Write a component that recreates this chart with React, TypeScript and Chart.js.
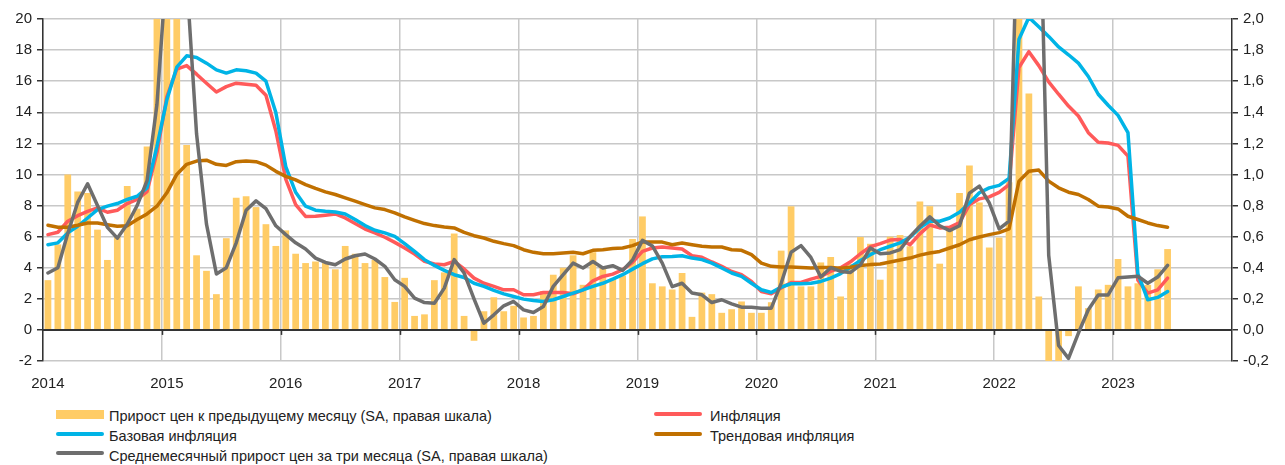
import React, { useEffect, useRef } from 'react';
import { Chart, registerables } from 'chart.js';

Chart.register(...registerables);

// ---- categories ----
const yearLabels = ['2014', '2015', '2016', '2017', '2018', '2019', '2020', '2021', '2022', '2023'];
const monthCodes = ['01', '02', '03', '04', '05', '06', '07', '08', '09', '10', '11', '12'];
const monthLabels: string[] = yearLabels.flatMap((y) => monthCodes.map((m) => `${y}-${m}`));

// ---- series (2014-01 .. 2023-06) ----
// Month-on-month price growth, SA, % (right axis)
const monthlySA = [
  0.32, 0.55, 1.0, 0.89, 0.88, 0.645, 0.45, 0.6, 0.925, 0.78, 1.18, 2.4,
  3.5, 2.1, 1.19, 0.48, 0.38, 0.23, 0.59, 0.85, 0.86, 0.79, 0.68, 0.54,
  0.64, 0.49, 0.43, 0.44, 0.43, 0.39, 0.54, 0.49, 0.43, 0.45, 0.34, 0.18,
  0.335, 0.09, 0.1, 0.32, 0.37, 0.62, 0.09, -0.07, 0.12, 0.21, 0.12, 0.155,
  0.08, 0.09, 0.25, 0.355, 0.4, 0.48, 0.29, 0.5, 0.4, 0.33, 0.35, 0.585,
  0.73, 0.3, 0.28, 0.26, 0.366, 0.084, 0.24, 0.23, 0.11, 0.133, 0.183, 0.11,
  0.11, 0.178, 0.51, 0.795, 0.28, 0.28, 0.434, 0.469, 0.215, 0.424, 0.598, 0.554,
  0.323, 0.6, 0.61, 0.538, 0.826, 0.796, 0.426, 0.66, 0.88, 1.058, 0.82, 0.53,
  0.594, 0.95, 3.0, 1.52, 0.215, -0.35, -0.3, -0.04, 0.28, 0.14, 0.26, 0.29,
  0.456, 0.28, 0.3, 0.29, 0.39, 0.52,
];

// Headline inflation, % y/y (left axis)
const inflation = [
  6.13, 6.28, 6.99, 7.35, 7.63, 7.85, 7.57, 7.7, 8.13, 8.39, 8.9, 11.4,
  15.0, 16.77, 17.0, 16.45, 15.87, 15.3, 15.65, 15.87, 15.8, 15.74, 15.1, 12.8,
  9.7, 8.06, 7.3, 7.31, 7.38, 7.46, 7.2, 6.84, 6.49, 6.24, 5.96, 5.63,
  5.27, 4.88, 4.41, 4.24, 4.19, 4.41, 3.92, 3.33, 3.0, 2.8, 2.58, 2.58,
  2.26, 2.26, 2.41, 2.41, 2.41, 2.32, 2.58, 3.16, 3.44, 3.59, 3.87, 4.35,
  5.05, 5.27, 5.33, 5.27, 5.2, 4.77, 4.67, 4.37, 4.09, 3.76, 3.55, 3.12,
  2.47, 2.32, 2.7, 3.05, 3.05, 3.27, 3.44, 3.76, 4.0, 4.38, 4.9, 5.35,
  5.55, 5.78, 5.82, 5.48, 6.18, 6.75, 6.56, 6.6, 6.9, 8.06, 8.43, 8.56,
  8.85, 9.35, 16.88, 17.9, 17.0, 15.96, 15.16, 14.4, 13.76, 12.69, 12.07, 12.02,
  11.87, 11.18, 3.2, 2.37, 2.58, 3.33,
];

// Core inflation, % y/y (left axis)
const coreInflation = [
  5.48, 5.6, 6.24, 6.67, 7.2, 7.74, 7.96, 8.13, 8.39, 8.6, 9.14, 11.8,
  14.8, 16.9, 17.63, 17.53, 17.16, 16.73, 16.52, 16.73, 16.67, 16.52, 16.0, 13.98,
  10.5, 8.85, 7.96, 7.7, 7.63, 7.59, 7.46, 7.1, 6.71, 6.41, 6.24, 6.02,
  5.55, 5.05, 4.52, 4.15, 3.83, 3.55, 3.37, 3.0, 2.8, 2.54, 2.32, 2.15,
  1.98, 1.89, 1.83, 1.94, 2.15, 2.37, 2.58, 2.8, 3.0, 3.27, 3.55, 3.91,
  4.26, 4.57, 4.71, 4.73, 4.77, 4.62, 4.52, 4.3, 3.98, 3.66, 3.44, 3.0,
  2.58, 2.41, 2.75, 2.97, 2.97, 3.0, 3.12, 3.33, 3.62, 4.03, 4.47, 4.84,
  5.16, 5.38, 5.6, 5.96, 6.56, 7.0, 6.99, 7.2, 7.57, 8.17, 8.82, 9.14,
  9.3, 9.75, 18.7, 20.1, 19.5, 18.88, 18.2, 17.7, 17.16, 16.3, 15.16, 14.45,
  13.8, 12.69, 3.6, 1.94, 2.09, 2.47,
];

// Trend inflation, % (left axis)
const trendInflation = [
  6.73, 6.6, 6.6, 6.73, 6.88, 6.88, 6.77, 6.67, 6.7, 7.1, 7.46, 7.96,
  8.82, 10.0, 10.65, 10.86, 10.92, 10.65, 10.58, 10.82, 10.86, 10.82, 10.6, 10.2,
  9.88, 9.65, 9.35, 9.1, 8.88, 8.71, 8.49, 8.28, 8.06, 7.85, 7.74, 7.53,
  7.27, 7.05, 6.84, 6.71, 6.62, 6.56, 6.27, 6.06, 5.91, 5.7, 5.55, 5.42,
  5.16, 4.99, 4.9, 4.9, 4.95, 4.99, 4.9, 5.12, 5.16, 5.23, 5.27, 5.42,
  5.66, 5.66, 5.65, 5.48, 5.59, 5.48, 5.38, 5.33, 5.33, 5.16, 5.12, 4.84,
  4.3, 4.09, 4.04, 4.04, 4.02, 3.98, 4.02, 4.02, 3.96, 4.03, 4.14, 4.2,
  4.24, 4.37, 4.5, 4.62, 4.81, 4.95, 5.05, 5.27, 5.48, 5.8, 5.98, 6.13,
  6.26, 6.5, 9.57, 10.2, 10.28, 9.57, 9.14, 8.86, 8.71, 8.39, 7.96, 7.91,
  7.78, 7.31, 7.1, 6.88, 6.71, 6.6,
];

// Average monthly price growth over three months, SA, % (right axis)
const threeMonthAvgSA = [
  0.366, 0.4, 0.62, 0.82, 0.94, 0.8, 0.66, 0.59, 0.68, 0.8, 0.96, 1.45,
  2.36, 2.67, 2.26, 1.26, 0.68, 0.36, 0.4, 0.56, 0.77, 0.83, 0.78, 0.67,
  0.613, 0.56, 0.52, 0.462, 0.434, 0.419, 0.456, 0.477, 0.488, 0.456, 0.409, 0.323,
  0.28, 0.204, 0.176, 0.172, 0.269, 0.452, 0.366, 0.2, 0.043, 0.097, 0.155, 0.183,
  0.129, 0.112, 0.15, 0.28, 0.355, 0.43, 0.398, 0.44, 0.398, 0.413, 0.383, 0.45,
  0.576, 0.54, 0.43, 0.278, 0.3, 0.237, 0.226, 0.176, 0.194, 0.168, 0.146, 0.146,
  0.14, 0.14, 0.3, 0.5, 0.542, 0.466, 0.34, 0.4, 0.376, 0.37, 0.419, 0.527,
  0.49, 0.495, 0.516, 0.6, 0.667, 0.727, 0.67, 0.639, 0.67, 0.88, 0.925, 0.817,
  0.65, 0.7, 3.0, 3.35, 3.1, 0.48, -0.1, -0.183, -0.02, 0.13, 0.225, 0.225,
  0.335, 0.34, 0.345, 0.3, 0.34, 0.415,
];

const seriesNames = {
  bars: 'Прирост цен к предыдущему месяцу (SA, правая шкала)',
  inflation: 'Инфляция',
  core: 'Базовая инфляция',
  trend: 'Трендовая инфляция',
  avg3: 'Среднемесячный прирост цен за три месяца (SA, правая шкала)',
};

const COLORS = {
  bars: '#FFCC66',
  inflation: '#FF5A5A',
  core: '#00B4E6',
  trend: '#C07000',
  avg3: '#6E6E6E',
  grid: '#C8C8C8',
  dark: '#333333',
  text: '#222222',
};

const FONT = "'Liberation Sans', Arial, sans-serif";

const zeroLinePlugin = {
  id: 'zeroLine',
  afterDatasetDraw(chart: any, args: any) {
    if (args.index !== 0) return;
    const { ctx, chartArea } = chart;
    const xs = chart.scales.x;
    const ys = chart.scales.y;
    const y0 = ys.getPixelForValue(0);
    ctx.save();
    ctx.strokeStyle = COLORS.dark;
    ctx.lineWidth = 2;
    ctx.beginPath();
    ctx.moveTo(chartArea.left, y0);
    ctx.lineTo(chartArea.right, y0);
    ctx.stroke();
    const half = (xs.getPixelForValue(1) - xs.getPixelForValue(0)) / 2;
    ctx.lineWidth = 1.5;
    for (let j = 1; j < yearLabels.length; j++) {
      const px = Math.round(xs.getPixelForValue(j * 12) - half) + 0.5;
      ctx.beginPath();
      ctx.moveTo(px, y0);
      ctx.lineTo(px, y0 + 5);
      ctx.stroke();
    }
    ctx.restore();
  },
};

function lineDs(label: string, data: number[], color: string, axis: string, order: number) {
  return {
    type: 'line' as const,
    label,
    data,
    yAxisID: axis,
    borderColor: color,
    backgroundColor: color,
    borderWidth: 3.5,
    pointRadius: 0,
    tension: 0,
    borderJoinStyle: 'round' as const,
    borderCapStyle: 'round' as const,
    order,
  };
}

export default function App() {
  const canvasRef = useRef<HTMLCanvasElement | null>(null);

  useEffect(() => {
    if (!canvasRef.current) return;
    const tickFont = { family: FONT, size: 15 };
    const chart = new Chart(canvasRef.current, {
      type: 'bar',
      data: {
        labels: monthLabels,
        datasets: [
          {
            type: 'bar',
            label: seriesNames.bars,
            data: monthlySA,
            yAxisID: 'y1',
            backgroundColor: COLORS.bars,
            barPercentage: 0.68,
            categoryPercentage: 1.0,
            order: 10,
          } as any,
          lineDs(seriesNames.inflation, inflation, COLORS.inflation, 'y', 4),
          lineDs(seriesNames.core, coreInflation, COLORS.core, 'y', 3),
          lineDs(seriesNames.trend, trendInflation, COLORS.trend, 'y', 2),
          lineDs(seriesNames.avg3, threeMonthAvgSA, COLORS.avg3, 'y1', 1),
        ],
      },
      options: {
        animation: false,
        responsive: false,
        maintainAspectRatio: false,
        layout: { padding: { top: 19, left: 0, right: 0, bottom: 0 } },
        plugins: { legend: { display: false }, tooltip: { enabled: false } },
        scales: {
          x: {
            type: 'category',
            offset: true,
            grid: {
              offset: true,
              drawTicks: false,
              lineWidth: 1.5,
              color: (c: any) => (c.index % 12 === 0 ? COLORS.grid : 'rgba(0,0,0,0)'),
            },
            border: { display: false },
            ticks: {
              autoSkip: false,
              maxRotation: 0,
              minRotation: 0,
              padding: 14,
              font: tickFont,
              color: COLORS.text,
              callback: (_v: any, i: number) => (i % 12 === 0 ? yearLabels[i / 12] : ''),
            },
            afterFit: (s: any) => {
              s.height = 37;
            },
          },
          y: {
            position: 'left',
            min: -2,
            max: 20,
            ticks: { stepSize: 2, padding: 5, font: tickFont, color: COLORS.text },
            grid: {
              color: COLORS.grid,
              lineWidth: 1.5,
              tickColor: COLORS.dark,
              tickLength: 6,
            },
            border: { display: true, color: COLORS.dark, width: 1.5 },
            afterFit: (s: any) => {
              s.width = 43;
            },
          },
          y1: {
            position: 'right',
            min: -0.2,
            max: 2.0,
            ticks: {
              stepSize: 0.2,
              padding: 5,
              font: tickFont,
              color: COLORS.text,
              callback: (v: any) => Number(v).toFixed(1).replace('.', ','),
            },
            grid: { drawOnChartArea: false, tickColor: COLORS.dark, tickLength: 6, lineWidth: 1.5 },
            border: { display: true, color: COLORS.dark, width: 1.5 },
            afterFit: (s: any) => {
              s.width = 53;
            },
          },
        },
      } as any,
      plugins: [zeroLinePlugin],
    });
    return () => chart.destroy();
  }, []);

  const textStyle = (left: number, top: number): React.CSSProperties => ({
    position: 'absolute',
    left,
    top,
    fontSize: 14.5,
    lineHeight: '15px',
    whiteSpace: 'nowrap',
    color: COLORS.text,
  });
  const lineSwatch = (left: number, top: number, color: string): React.CSSProperties => ({
    position: 'absolute',
    left,
    top,
    width: 48,
    height: 4,
    borderRadius: 2,
    background: color,
  });

  return (
    <div
      style={{
        position: 'absolute',
        left: 0,
        top: 0,
        width: 1285,
        height: 465,
        background: '#ffffff',
        fontFamily: FONT,
        overflow: 'hidden',
      }}
    >
      <canvas ref={canvasRef} width={1285} height={398} style={{ display: 'block' }} />
      <div style={{ position: 'absolute', left: 56, top: 410, width: 48, height: 9, background: COLORS.bars }} />
      <div style={textStyle(109, 409)}>{seriesNames.bars}</div>
      <div style={lineSwatch(56, 432, COLORS.core)} />
      <div style={textStyle(109, 429)}>{seriesNames.core}</div>
      <div style={lineSwatch(56, 451, COLORS.avg3)} />
      <div style={textStyle(109, 449)}>{seriesNames.avg3}</div>
      <div style={lineSwatch(654, 412, COLORS.inflation)} />
      <div style={textStyle(710, 409)}>{seriesNames.inflation}</div>
      <div style={lineSwatch(654, 432, COLORS.trend)} />
      <div style={textStyle(710, 429)}>{seriesNames.trend}</div>
    </div>
  );
}
